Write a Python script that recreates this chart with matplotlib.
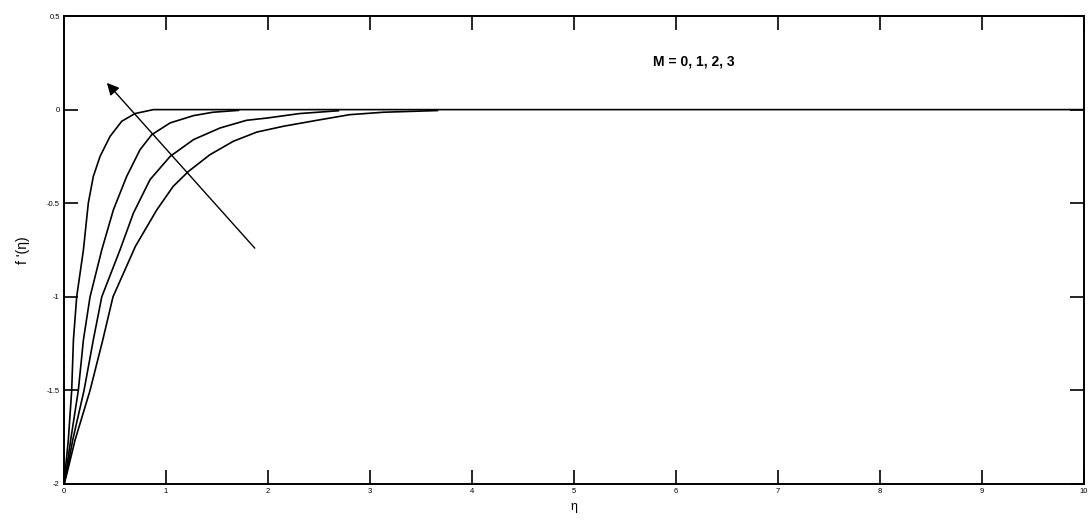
import numpy as np
import matplotlib.pyplot as plt

plt.rcParams['font.family'] = ['Liberation Sans', 'DejaVu Sans']

# f'(eta) profiles, M = 0, 1, 2, 3
eta_m0 = [0, 0.01, 0.042, 0.075, 0.092, 0.124, 0.19, 0.238, 0.287, 0.353, 0.451, 0.566, 0.696, 0.876, 10]
f_m0 = [-2, -1.94, -1.765, -1.5, -1.23, -1.0, -0.749, -0.499, -0.357, -0.25, -0.143, -0.062, -0.021, 0, 0]

eta_m1 = [0, 0.02, 0.065, 0.14, 0.19, 0.255, 0.37, 0.484, 0.614, 0.745, 0.86, 1.04, 1.27, 1.46, 1.71]
f_m1 = [-2, -1.94, -1.765, -1.5, -1.23, -1.0, -0.749, -0.535, -0.357, -0.214, -0.134, -0.071, -0.032, -0.014, -0.004]

eta_m2 = [0, 0.025, 0.085, 0.196, 0.287, 0.37, 0.549, 0.68, 0.843, 1.04, 1.27, 1.53, 1.79, 1.99, 2.31, 2.69]
f_m2 = [-2, -1.94, -1.765, -1.5, -1.23, -1.0, -0.749, -0.553, -0.374, -0.25, -0.16, -0.098, -0.057, -0.045, -0.021, -0.006]

eta_m3 = [0, 0.03, 0.108, 0.255, 0.38, 0.48, 0.70, 0.91, 1.07, 1.22, 1.43, 1.66, 1.89, 2.15, 2.48, 2.80, 3.13, 3.66]
f_m3 = [-2, -1.94, -1.765, -1.5, -1.23, -1.0, -0.73, -0.535, -0.41, -0.33, -0.241, -0.169, -0.12, -0.089, -0.057, -0.027, -0.014, -0.005]

fig = plt.figure(figsize=(10.91, 5.22), dpi=100)
ax = fig.add_axes([0.0587, 0.0728, 0.9349, 0.8965])

for e, f in [(eta_m0, f_m0), (eta_m1, f_m1), (eta_m2, f_m2), (eta_m3, f_m3)]:
    ax.plot(e, f, color='black', lw=1.2)

# arrow showing increasing M
ax.annotate("", xy=(0.42, 0.143), xytext=(1.87, -0.74),
            arrowprops=dict(arrowstyle='-|>,head_width=0.3,head_length=0.6',
                            color='black', lw=1.0,
                            mutation_scale=12, shrinkA=0, shrinkB=0))
ax.text(5.77, 0.258, "M = 0, 1, 2, 3", fontsize=10, fontweight='bold',
        ha='left', va='center')

ax.set_xlim(0, 10)
ax.set_ylim(-2, 0.5)
ax.set_xticks(np.arange(0, 11, 1))
ax.set_yticks([-2, -1.5, -1, -0.5, 0, 0.5])
ax.set_yticklabels(['-2', '-1.5', '-1', '-0.5', '0', '0.5'])
ax.tick_params(direction='in', length=10, width=1.2, labelsize=5.5,
               top=True, right=True, pad=3)
for s in ax.spines.values():
    s.set_linewidth(1.4)

ax.set_xlabel("η", fontsize=9, labelpad=4)
ax.set_ylabel("f '(η)", fontsize=10, labelpad=12)

fig.savefig('out.png', dpi=100)
